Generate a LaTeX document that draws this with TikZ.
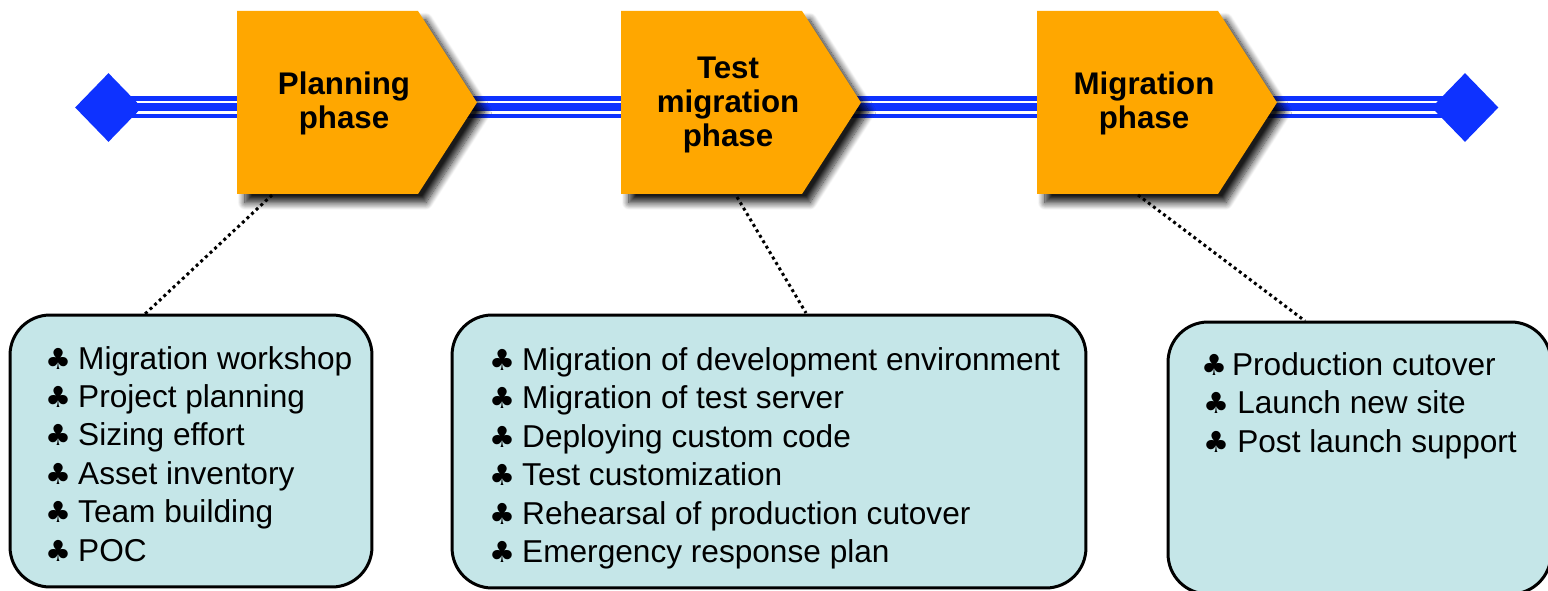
\documentclass[tikz,border=0pt]{standalone}
\usepackage{fontspec}
\setmainfont{Liberation Sans}
\newfontfamily\symfont{DejaVu Sans}
\usetikzlibrary{shadows.blur,shapes.geometric}
\definecolor{phaseorange}{RGB}{255,167,0}
\definecolor{lineblue}{RGB}{14,50,255}
\definecolor{boxfill}{RGB}{197,230,232}
\newcommand\clb[1]{\makebox[#1][l]{\symfont\fontsize{16.5}{16.5}\selectfont ♣}}
\begin{document}
\begin{tikzpicture}[x=0.02cm,y=-0.02cm,
  phaseshape/.style={fill=phaseorange, blur shadow={shadow xshift=4.5pt, shadow yshift=-5pt, shadow blur radius=4pt, shadow blur steps=12, shadow opacity=90}},
  phasetext/.style={font=\bfseries\fontsize{17.8}{19.3}\selectfont, inner sep=0pt, anchor=base},
  listbox/.style={draw=black, line width=1.7pt, fill=boxfill, rounded corners=0.8cm, inner sep=0pt},
  item/.style={font=\fontsize{18}{21.8}\selectfont, inner sep=0pt, anchor=base west},
  endmark/.style={diamond, fill=lineblue, minimum width=1.34cm, minimum height=1.38cm, inner sep=0pt},
  dotline/.style={line width=1.7pt, dash pattern=on 1.7pt off 1.9pt}]
\useasboundingbox (0,0) rectangle (1548,591);

% timeline
\coordinate (tl) at (108.5,107);
\coordinate (tr) at (1465,107);
\draw[lineblue, line width=0.43cm] (tl) -- (tr);
\draw[white, line width=0.055cm] ([yshift=0.1cm]tl) -- ([yshift=0.1cm]tr);
\draw[white, line width=0.065cm] ([yshift=-0.106cm]tl) -- ([yshift=-0.106cm]tr);

% phase shapes
\foreach \L in {237,621,1037}
  \path[phaseshape] (\L,11) -- ++(181,0) -- ++(59,91.5) -- ++(-59,91.5) -- ++(-181,0) -- cycle;

% end markers
\node[endmark] (dl) at (108.5,107.5) {};
\node[endmark] (dr) at (1465,107.5) {};

% phase labels
\node[phasetext] (p1a) at (344,95) {Planning};
\node[phasetext] (p1b) at (344,129) {phase};
\node[phasetext] (p2a) at (728,78.5) {Test};
\node[phasetext] (p2b) at (728,112.5) {migration};
\node[phasetext] (p2c) at (728,146.5) {phase};
\node[phasetext] (p3a) at (1144,95) {Migration};
\node[phasetext] (p3b) at (1144,129) {phase};

% boxes
\node[listbox, minimum width=7.24cm, minimum height=5.44cm] (box1) at (191,451) {};
\node[listbox, minimum width=12.68cm, minimum height=5.46cm] (box2) at (769,451.5) {};
\node[listbox, minimum width=7.66cm, minimum height=5.44cm] (box3) at (1359.5,458) {};

% connectors
\coordinate (c1a) at (272,195);
\coordinate (c1b) at (145,314);
\coordinate (c2a) at (737,197);
\coordinate (c2b) at (806,313);
\coordinate (c3a) at (1138,195);
\coordinate (c3b) at (1305,321);
\draw[dotline] (c1a) -- (c1b);
\draw[dotline] (c2a) -- (c2b);
\draw[dotline] (c3a) -- (c3b);

% list items
\foreach \t [count=\i] in {Migration workshop,Project planning,Sizing effort,Asset inventory,Team building,POC}
  \node[item] (b1-\i) at (45,{369+(\i-1)*38.4}) {\clb{18.7pt}\t};
\foreach \t [count=\i] in {Migration of development environment,Migration of test server,Deploying custom code,Test customization,Rehearsal of production cutover,Emergency response plan}
  \node[item] (b2-\i) at (489,{370+(\i-1)*38.5}) {\clb{18.7pt}\t};
\node[item] (b3-1) at (1201,375) {\clb{17.5pt}Production cutover};
\node[item] (b3-2) at (1203,413.5) {\clb{19.3pt}Launch new site};
\node[item] (b3-3) at (1203,452) {\clb{19.3pt}Post launch support};
\end{tikzpicture}
\end{document}
